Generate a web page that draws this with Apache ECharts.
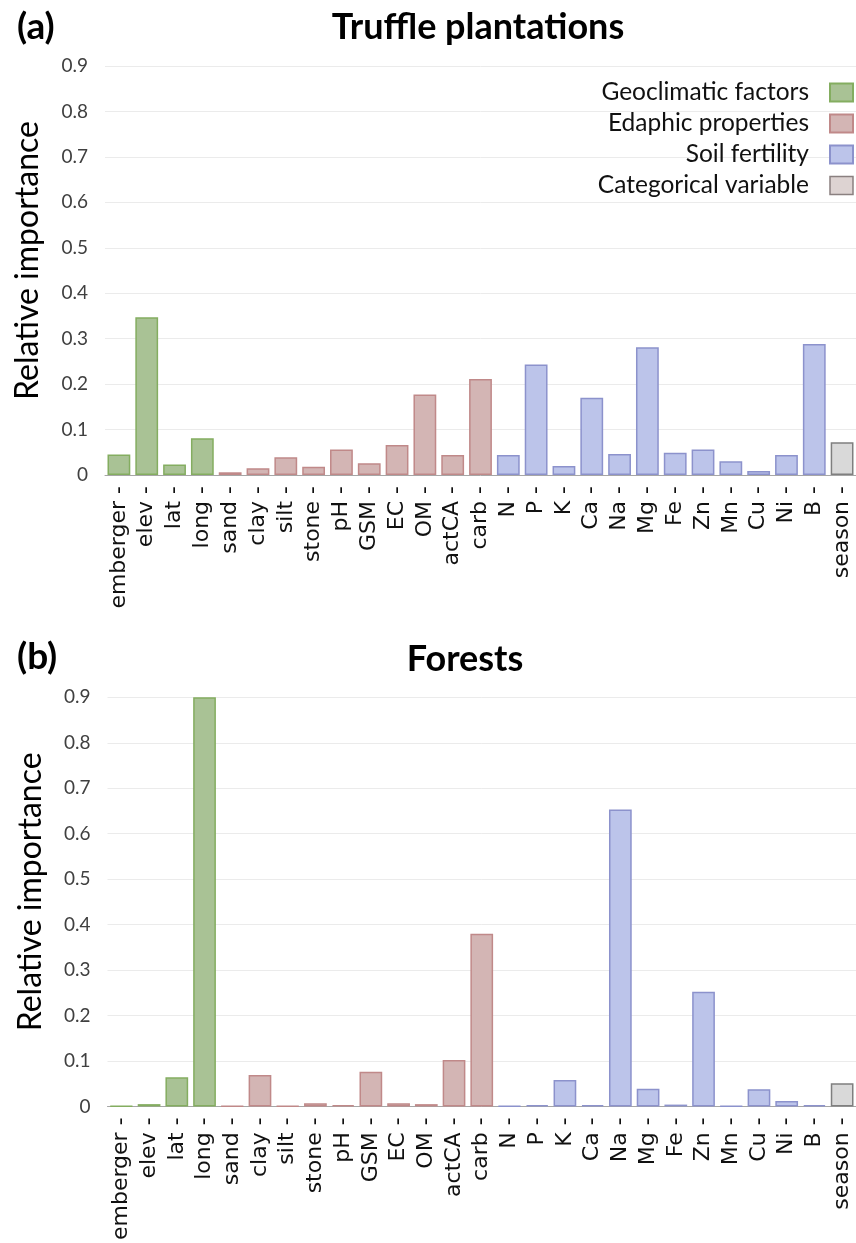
<!DOCTYPE html>
<html>
<head>
<meta charset="utf-8">
<script src="https://cdn.jsdelivr.net/npm/echarts@6/dist/echarts.min.js"></script>
<style>
html,body{margin:0;padding:0;background:#fff;}
#chart{width:856px;height:1243px;}
</style>
</head>
<body>
<div id="chart"></div>
<script>
const categories = ['emberger','elev','lat','long','sand','clay','silt','stone','pH','GSM','EC','OM','actCA','carb','N','P','K','Ca','Na','Mg','Fe','Zn','Mn','Cu','Ni','B','season'];
const categoryGroup = [0,0,0,0, 1,1,1,1,1,1,1,1,1,1, 2,2,2,2,2,2,2,2,2,2,2,2, 3];
const groupNames = ['Geoclimatic factors','Edaphic properties','Soil fertility','Categorical variable'];
const plantationValues = [0.045,0.347,0.023,0.081,0.006,0.015,0.039,0.018,0.056,0.026,0.066,0.177,0.044,0.211,0.044,0.243,0.020,0.170,0.046,0.281,0.049,0.056,0.030,0.009,0.044,0.288,0.072];
const forestValues = [0.001,0.005,0.064,0.900,0.001,0.069,0.001,0.007,0.003,0.076,0.007,0.005,0.102,0.380,0.001,0.003,0.058,0.003,0.653,0.039,0.004,0.252,0.001,0.038,0.012,0.003,0.051];
const yTicks = [0,0.1,0.2,0.3,0.4,0.5,0.6,0.7,0.8,0.9];
const panelTitles = ['Truffle plantations','Forests'];
const panelTags = ['(a)','(b)'];

const fills = ['#a9c295','#d3b5b4','#bcc4ea','#d9d9d9'];
const borders = ['#84ad60','#c08989','#8c92cc','#7f7f7f'];

const chart = echarts.init(document.getElementById('chart'));

const grids = [
  {left:105, top:66, width:754, height:409},
  {left:107.5, top:697.3, width:754, height:410}
];

function xAxisFor(i){
  return {
    type:'category', gridIndex:i, data:categories,
    axisLine:{show:true, lineStyle:{color:'#a6a6a6', width:1}},
    axisTick:{show:false},
    axisLabel:{interval:0, rotate:90, margin:11, color:'#111', fontFamily:'DejaVu Sans', fontSize:22,
      formatter: v => v + ' -'}
  };
}
function yAxisFor(i){
  return {
    type:'value', gridIndex:i, min:0, max:yTicks[yTicks.length-1], interval:0.1,
    name:'Relative importance', nameLocation:'middle', nameGap:61,
    nameTextStyle:{fontFamily:'Lato', fontSize:32, color:'#000', padding:[0,0,0,20]},
    axisLine:{show:false}, axisTick:{show:false},
    splitLine:{lineStyle:{color:'#ebebeb', width:1}},
    axisLabel:{margin:17, color:'#404040', fontFamily:'Lato', fontSize:19,
      formatter: v => (v===0 ? '0' : v.toFixed(1))}
  };
}

const series = [];
[plantationValues, forestValues].forEach((vals, gi) => {
  groupNames.forEach((gname, k) => {
    series.push({
      type:'bar', name:gname, xAxisIndex:gi, yAxisIndex:gi,
      barGap:'-100%', barCategoryGap:'18%',
      itemStyle:{color:fills[k], borderColor:borders[k], borderWidth:1.5},
      data: vals.map((v, idx) => categoryGroup[idx] === k ? v : '-'),
      emphasis:{disabled:true}
    });
  });
});

const legendData = groupNames.map((n, k) => k === 3
  ? {name:n, itemStyle:{color:'#ddd3d2', borderColor:'#8a8080', borderWidth:1.5}}
  : {name:n});

chart.setOption({
  animation:false,
  backgroundColor:'#fff',
  title:[
    {text:panelTags[0], left:12, top:4, textStyle:{fontFamily:'Lato', fontWeight:'bold', fontSize:37, color:'#000'}},
    {text:panelTitles[0], left:473, textAlign:'center', top:4, textStyle:{fontFamily:'Lato', fontWeight:'bold', fontSize:36, color:'#000'}},
    {text:panelTags[1], left:12, top:634, textStyle:{fontFamily:'Lato', fontWeight:'bold', fontSize:37, color:'#000'}},
    {text:panelTitles[1], left:460, textAlign:'center', top:636, textStyle:{fontFamily:'Lato', fontWeight:'bold', fontSize:36, color:'#000'}}
  ],
  legend:{
    data:legendData, orient:'vertical', align:'right', right:-3, top:75,
    itemWidth:23, itemHeight:18, itemGap:6, icon:'rect',
    selectedMode:false,
    textStyle:{fontFamily:'Lato', fontSize:24.5, color:'#111', padding:[0,16,0,0]}
  },
  grid:grids,
  xAxis:[xAxisFor(0), xAxisFor(1)],
  yAxis:[yAxisFor(0), yAxisFor(1)],
  series:series
});
</script>
</body>
</html>
